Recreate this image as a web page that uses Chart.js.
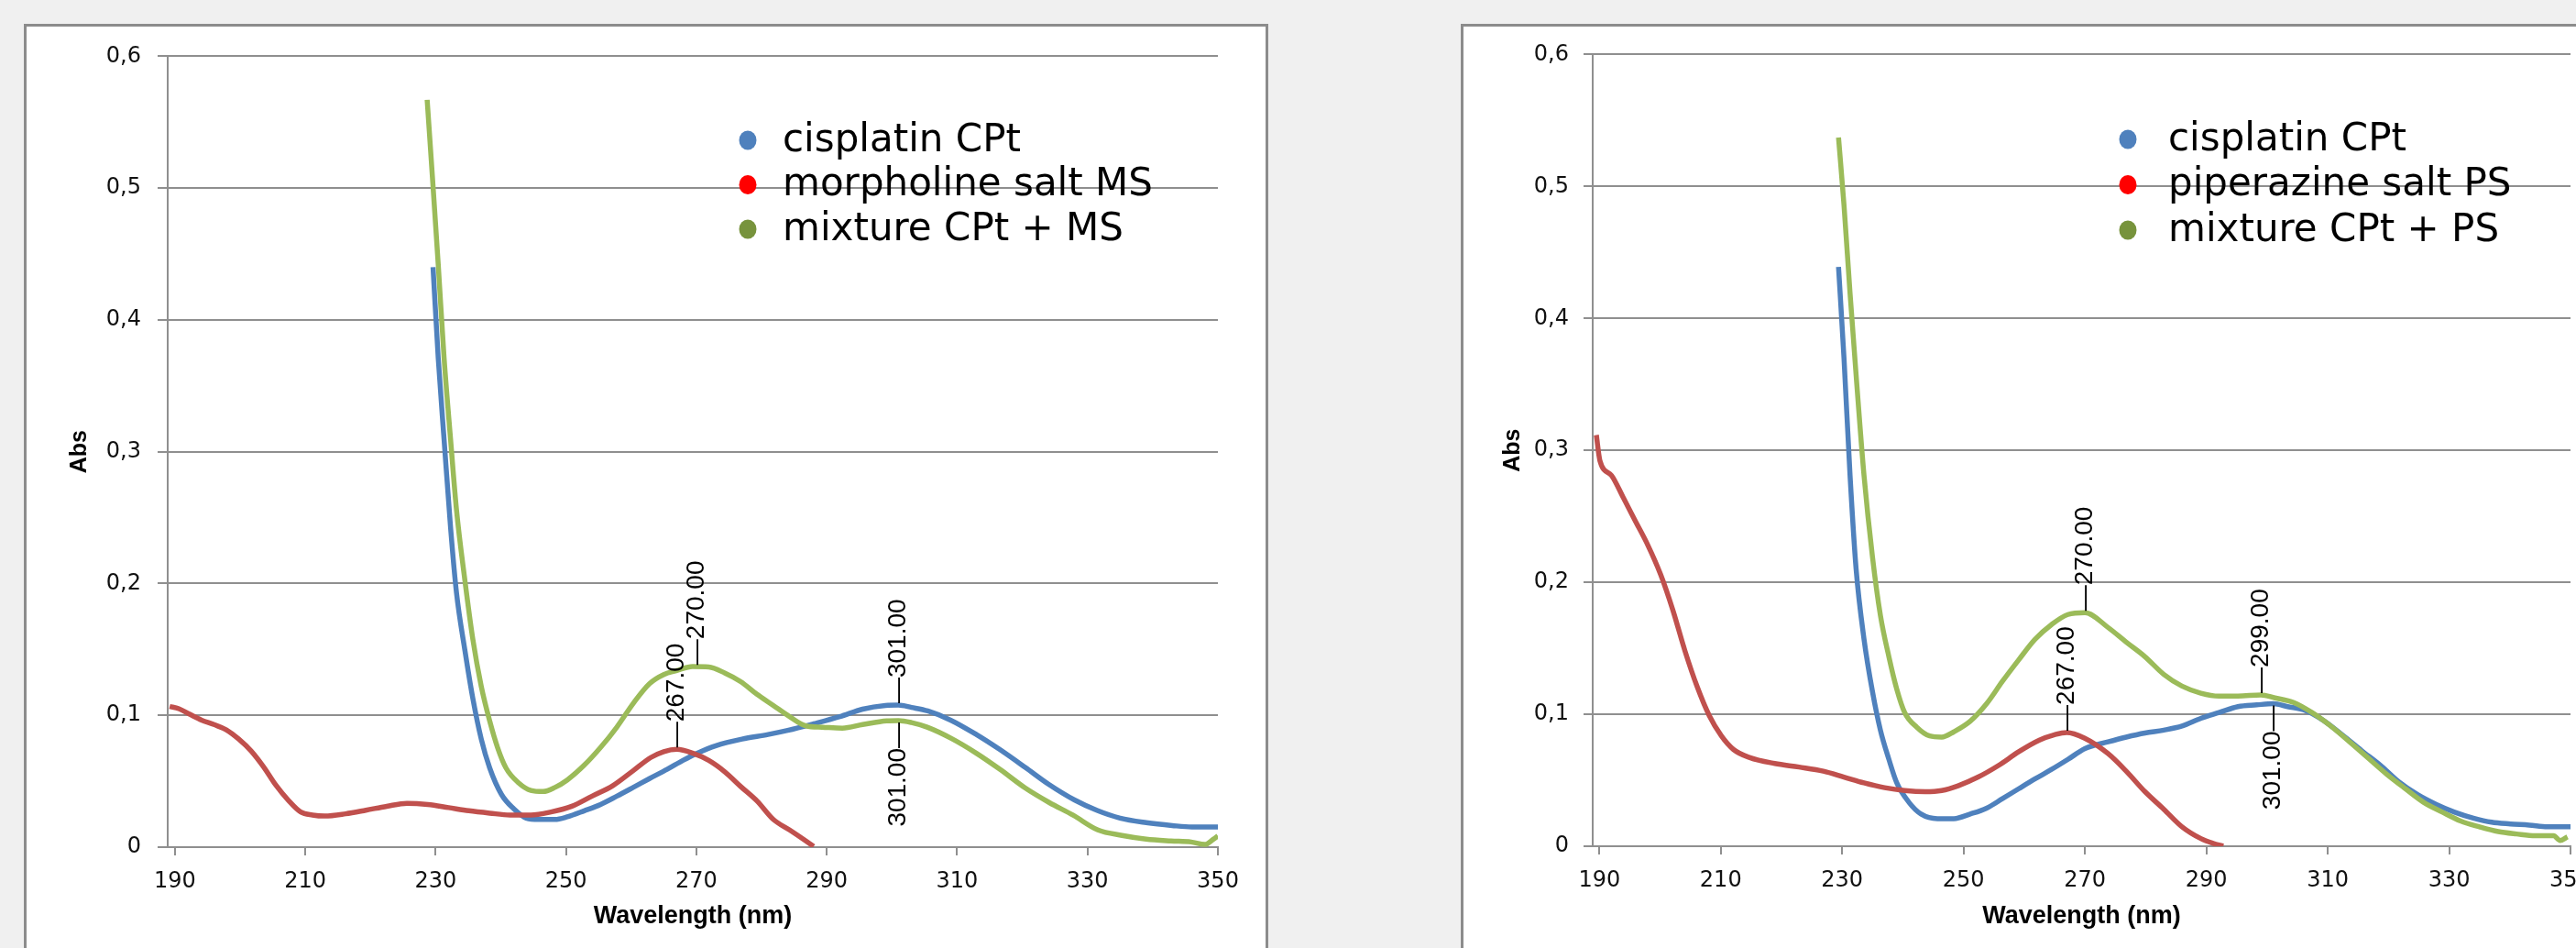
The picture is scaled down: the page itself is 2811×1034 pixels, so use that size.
<!DOCTYPE html>
<html>
<head>
<meta charset="utf-8">
<script src="https://cdn.jsdelivr.net/npm/chart.js@4.4.1/dist/chart.umd.min.js"></script>
<style>
    html, body { margin: 0; padding: 0; }
    body { width: 2811px; height: 1034px; background: #f0f0f0; overflow: hidden; position: relative; }
    .panel { position: absolute; background: #fff; border: 3px solid #8c8c8c; box-sizing: border-box; overflow: hidden; }
    #panelL { left: 26px; top: 26px; width: 1358px; height: 1100px; }
    #panelR { left: 1594px; top: 26px; width: 1400px; height: 1100px; }
    .box { position: absolute; left: 0; top: 0; height: 1005px; }
    #boxL { width: 1352px; }
    #boxR { width: 1300px; }
</style>
</head>
<body>
<div class="panel" id="panelL"><div class="box" id="boxL"><canvas id="chartL"></canvas></div></div>
<div class="panel" id="panelR"><div class="box" id="boxR"><canvas id="chartR"></canvas></div></div>
<script>
// axes
var xTicks = [190, 210, 230, 250, 270, 290, 310, 330, 350];
var yTicks = [0, 0.1, 0.2, 0.3, 0.4, 0.5, 0.6];
var xMin = 188.9, xMax = 350;

var lineColors = ['#4f81bd', '#c0504d', '#9bbb59'];
var legendColors = ['#4f81bd', '#ff0000', '#77933c'];

// left: cisplatin + morpholine salt
var labelsL = ['cisplatin CPt', 'morpholine salt MS', 'mixture CPt + MS'];
var cptWlL = [229.6, 230.4, 231.3, 232.3, 233.2, 234.5, 235.7, 237, 238.3, 240.1, 242, 243.9, 245.8, 248.3, 250.2, 252.8, 255.3, 257.8, 260.3, 262.8, 265.5, 268, 270, 273, 277, 281, 284, 288, 292, 295.5, 299, 301, 303, 305.5, 309, 313, 316.5, 320.5, 324, 328, 331.5, 335, 339, 343, 346, 350];
var cptAbsL = [0.44, 0.371, 0.309, 0.242, 0.193, 0.149, 0.113, 0.082, 0.06, 0.04, 0.029, 0.022, 0.021, 0.021, 0.023, 0.0276, 0.0324, 0.0387, 0.0453, 0.052, 0.059, 0.066, 0.071, 0.077, 0.082, 0.0855, 0.0886, 0.0936, 0.099, 0.1047, 0.1075, 0.1078, 0.106, 0.1033, 0.0964, 0.0853, 0.0742, 0.0603, 0.0478, 0.0358, 0.0278, 0.022, 0.0186, 0.0164, 0.0153, 0.0153];
var msWl = [189.2, 190.6, 192.2, 194.1, 196, 197.9, 199.8, 201.7, 203.6, 205.5, 207.4, 209.3, 211.1, 213, 216.2, 219.3, 222.5, 225.6, 228.8, 232, 235.1, 238.3, 241.4, 244.6, 247.7, 250.9, 254, 257.2, 260.3, 263, 265, 267, 269.4, 271.9, 274.4, 276.8, 279.3, 281.8, 284.3, 286.8, 288];
var msAbs = [0.1067, 0.105, 0.101, 0.0964, 0.093, 0.089, 0.082, 0.073, 0.061, 0.047, 0.0356, 0.0267, 0.0244, 0.0236, 0.0253, 0.028, 0.031, 0.0333, 0.0324, 0.030, 0.0276, 0.0258, 0.0244, 0.0244, 0.0267, 0.031, 0.0387, 0.0467, 0.058, 0.068, 0.0725, 0.0742, 0.0714, 0.0658, 0.057, 0.046, 0.035, 0.021, 0.013, 0.0047, 0.0006];
var mixWlL = [228.7, 229.5, 230.4, 231.3, 232.3, 233.2, 234.5, 235.7, 237, 238.3, 239.5, 240.8, 242.7, 244.6, 246.5, 248.3, 250.2, 252.8, 255.3, 257.8, 260.3, 262.8, 265, 267, 269.4, 271.9, 274.4, 276.8, 279.3, 281.8, 284.3, 286.8, 289.3, 292.4, 295.5, 299.2, 301, 303, 305.4, 309.1, 312.9, 316.6, 320.4, 324.1, 327.8, 331.6, 335.3, 339, 342.8, 345.9, 348, 349.3, 350];
var mixAbsL = [0.567, 0.509, 0.442, 0.371, 0.309, 0.256, 0.202, 0.158, 0.122, 0.0956, 0.0756, 0.06, 0.0489, 0.0431, 0.0422, 0.0453, 0.051, 0.0622, 0.0756, 0.0911, 0.109, 0.124, 0.131, 0.134, 0.137, 0.1367, 0.132, 0.1256, 0.116, 0.1075, 0.099, 0.092, 0.091, 0.0903, 0.093, 0.0958, 0.096, 0.0945, 0.091, 0.0825, 0.0714, 0.0589, 0.045, 0.0339, 0.0242, 0.013, 0.0089, 0.0061, 0.0047, 0.0039, 0.002, 0.006, 0.0085];
// peak labels: [series, wavelength, side]
var peaksL = [[1, 267, 'up'], [2, 270, 'up'], [0, 301, 'up'], [2, 301, 'down']];

// right: cisplatin + piperazine salt
var labelsR = ['cisplatin CPt', 'piperazine salt PS', 'mixture CPt + PS'];
var cptWlR = [229.4, 230.3, 231.3, 232.3, 233.6, 235, 236.3, 237.7, 239, 241, 243, 245.7, 248.4, 251.1, 253.8, 256.4, 259.1, 261.8, 264.5, 267.2, 270, 273.8, 276.8, 279.9, 283, 286, 289.1, 292.1, 295.2, 298.3, 301, 303.4, 306.4, 309.5, 312.6, 315.6, 318.7, 321.7, 324.8, 327.9, 330.9, 334, 337, 340.1, 343.2, 346.2, 350];
var cptAbsR = [0.439, 0.37, 0.281, 0.21, 0.157, 0.117, 0.088, 0.0658, 0.048, 0.0333, 0.0244, 0.0209, 0.0209, 0.0244, 0.0289, 0.036, 0.0436, 0.0511, 0.0582, 0.0658, 0.074, 0.0791, 0.0827, 0.0858, 0.088, 0.0911, 0.0969, 0.1013, 0.1058, 0.1071, 0.108, 0.1058, 0.1027, 0.0947, 0.0836, 0.0724, 0.0613, 0.0489, 0.0391, 0.0316, 0.0258, 0.0213, 0.0182, 0.0169, 0.016, 0.0147, 0.0147];
var psWl = [189.5, 190.1, 192, 194, 196, 198, 200.1, 202.1, 204.1, 206.1, 208.1, 210.1, 212.1, 214.8, 218.9, 222.9, 226.9, 230.3, 233.6, 237, 240.3, 243.7, 246.4, 249.1, 252.4, 255.8, 259.1, 262.5, 265, 267, 269.9, 273.8, 276.8, 279.9, 283, 286, 289.1, 291.1, 292.8];
var psAbs = [0.3116, 0.292, 0.281, 0.2636, 0.2458, 0.228, 0.2058, 0.179, 0.148, 0.121, 0.099, 0.0836, 0.0733, 0.0671, 0.0627, 0.06, 0.0569, 0.0524, 0.048, 0.0444, 0.0422, 0.0413, 0.0422, 0.0458, 0.0524, 0.0613, 0.0716, 0.0804, 0.0845, 0.0862, 0.082, 0.0702, 0.0569, 0.0413, 0.028, 0.0147, 0.0058, 0.0022, 0];
var mixWlR = [229.4, 230.3, 231.3, 232.3, 233.6, 235, 236.3, 237.7, 239, 240.3, 242.3, 244.4, 246.4, 248.4, 251.1, 253.8, 256.4, 259.1, 261.8, 264.5, 267.2, 270, 273.8, 276.8, 279.9, 283, 286, 289.1, 292.1, 295.2, 299, 301.3, 304.4, 307.4, 310.5, 313.6, 316.6, 319.7, 322.8, 325.8, 328.9, 331.9, 335, 338.1, 341.1, 344.2, 347.2, 348.3, 349.5];
var mixAbsR = [0.537, 0.486, 0.419, 0.357, 0.281, 0.219, 0.175, 0.1436, 0.119, 0.1013, 0.0902, 0.0836, 0.0827, 0.0867, 0.0947, 0.108, 0.1249, 0.1413, 0.1569, 0.168, 0.1756, 0.177, 0.1658, 0.1547, 0.1436, 0.1302, 0.1213, 0.116, 0.1138, 0.1138, 0.1147, 0.1124, 0.1089, 0.1013, 0.0911, 0.0791, 0.0671, 0.0547, 0.0436, 0.0333, 0.0258, 0.0191, 0.0147, 0.0111, 0.0093, 0.008, 0.008, 0.0044, 0.0071];
var peaksR = [[1, 267, 'up'], [2, 270, 'up'], [2, 299, 'up'], [0, 301, 'down']];

var gridColor = '#8f8f8f';

function toPoints(wl, abs) {
    var pts = [];
    for (var i = 0; i < wl.length; i++) pts.push({x: wl[i], y: abs[i]});
    return pts;
}

// linear interpolation of a series at wavelength x
function valueAt(pts, x) {
    for (var i = 1; i < pts.length; i++) {
        if (pts[i].x >= x) {
            var a = pts[i - 1], b = pts[i];
            return a.y + (b.y - a.y) * (x - a.x) / (b.x - a.x);
        }
    }
    return pts[pts.length - 1].y;
}

function peakPlugin(peaks) {
    return {
        id: 'peakLabels',
        afterDatasetsDraw: function (chart) {
            var ctx = chart.ctx, xs = chart.scales.x, ys = chart.scales.y;
            ctx.save();
            ctx.font = '28px "Liberation Sans"';
            ctx.fillStyle = '#000';
            ctx.textBaseline = 'middle';
            peaks.forEach(function (p) {
                var v = valueAt(chart.data.datasets[p[0]].data, p[1]);
                var px = xs.getPixelForValue(p[1]), py = ys.getPixelForValue(v);
                ctx.save();
                ctx.translate(px, py + (p[2] == 'up' ? -2 : 2));
                ctx.rotate(-Math.PI / 2);
                if (p[2] == 'up') {
                    ctx.textAlign = 'left';
                    ctx.fillText('\u2014' + p[1].toFixed(2), 0, 0);
                } else {
                    ctx.textAlign = 'right';
                    ctx.fillText(p[1].toFixed(2) + '\u2014', 0, 0);
                }
                ctx.restore();
            });
            ctx.restore();
        }
    };
}

function legendPlugin(labels, mx, tx, y0, dy) {
    return {
        id: 'dotLegend',
        afterDraw: function (chart) {
            var ctx = chart.ctx;
            ctx.save();
            ctx.font = '42px "DejaVu Sans"';
            ctx.textBaseline = 'middle';
            ctx.textAlign = 'left';
            labels.forEach(function (t, i) {
                var y = y0 + i * dy;
                ctx.fillStyle = legendColors[i];
                ctx.beginPath();
                ctx.ellipse(mx, y, 9.5, 10.5, 0, 0, Math.PI * 2);
                ctx.fill();
                ctx.fillStyle = '#000';
                ctx.fillText(t, tx, y + 1);
            });
            ctx.restore();
        }
    };
}

function makeChart(id, labels, series, peaks, geo) {
    var datasets = series.map(function (s, i) {
        return {
            label: labels[i],
            data: toPoints(s[0], s[1]),
            borderColor: lineColors[i],
            borderWidth: 5.5,
            pointRadius: 0,
            fill: false,
            cubicInterpolationMode: 'monotone',
            order: 3 - i
        };
    });
    return new Chart(document.getElementById(id), {
        type: 'line',
        data: {datasets: datasets},
        options: {
            responsive: true,
            maintainAspectRatio: false,
            animation: false,
            devicePixelRatio: 1,
            events: [],
            layout: {padding: {top: 30, right: geo.right, left: 0, bottom: 0}},
            plugins: {legend: {display: false}, tooltip: {enabled: false}},
            scales: {
                x: {
                    type: 'linear',
                    min: xMin,
                    max: xMax,
                    afterBuildTicks: function (s) { s.ticks = xTicks.map(function (v) { return {value: v}; }); },
                    afterFit: function (s) { s.height = geo.xh; },
                    grid: {drawOnChartArea: false, drawTicks: true, tickLength: 9, color: gridColor, lineWidth: 2},
                    border: {color: gridColor, width: 2},
                    ticks: {font: {family: 'DejaVu Sans', size: 24}, color: '#111', padding: 14, maxRotation: 0, autoSkip: false},
                    title: {display: true, text: 'Wavelength (nm)', color: '#000',
                        font: {family: 'Liberation Sans', size: 27, weight: 'bold'}, padding: {top: 0, bottom: 18}}
                },
                y: {
                    type: 'linear',
                    min: 0,
                    max: 0.6,
                    afterBuildTicks: function (s) { s.ticks = yTicks.map(function (v) { return {value: v}; }); },
                    afterFit: function (s) { s.width = geo.yw; },
                    grid: {color: gridColor, lineWidth: 2, tickLength: geo.tl},
                    border: {color: gridColor, width: 2},
                    ticks: {
                        font: {family: 'DejaVu Sans', size: 24}, color: '#111', padding: geo.tp,
                        callback: function (v) { return v === 0 ? '0' : v.toFixed(1).replace('.', ','); }
                    },
                    title: {display: true, text: 'Abs', color: '#000',
                        font: {family: 'Liberation Sans', size: 25, weight: 'bold'}, padding: {top: geo.tt, bottom: 0}}
                }
            }
        },
        plugins: [peakPlugin(peaks), legendPlugin(labels, geo.mx, geo.tx, geo.ly, geo.ldy)]
    });
}

makeChart('chartL', labelsL,
    [[cptWlL, cptAbsL], [msWl, msAbs], [mixWlL, mixAbsL]], peaksL,
    {right: 52, xh: 110, yw: 154, tl: 11, tp: 18, tt: 43, mx: 787, tx: 825, ly: 124, ldy: 48.5});

makeChart('chartR', labelsR,
    [[cptWlR, cptAbsR], [psWl, psAbs], [mixWlR, mixAbsR]], peaksR,
    {right: 92, xh: 111, yw: 141, tl: 10, tp: 16, tt: 39, mx: 725, tx: 769, ly: 123, ldy: 49.5});
</script>
</body>
</html>
